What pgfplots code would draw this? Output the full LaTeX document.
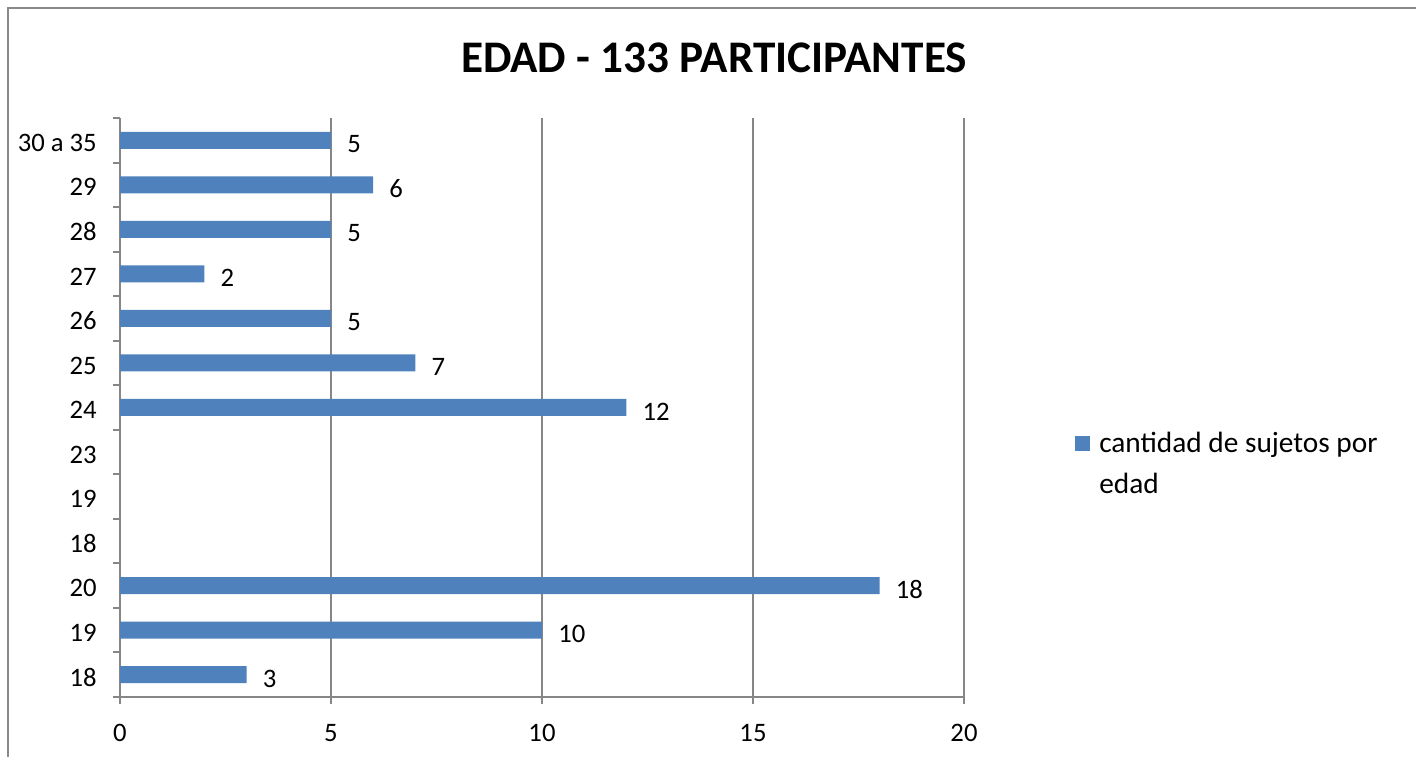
\documentclass[border=0pt]{standalone}
\usepackage{pgfplots}
\pgfplotsset{compat=1.18}
\usepackage{fontspec}
\setmainfont{Carlito}

\definecolor{barblue}{RGB}{79,129,189}
\definecolor{axisgray}{RGB}{134,134,134}
\definecolor{framegray}{RGB}{137,137,137}

% 1 px = 0.75 pt; canvas 1416 x 757 px
\begin{document}
\begin{tikzpicture}
\useasboundingbox (0,0) rectangle (1062pt,567.75pt);
% outer chart frame
\draw[framegray, line width=1.3pt] (6pt,0) -- (6pt,561.75pt) -- (1062pt,561.75pt);

\begin{axis}[
  at={(90pt,45pt)}, anchor=south west,
  scale only axis,
  width=633pt, height=434.25pt,
  xbar, bar width=12.75pt, bar shift=0pt,
  xmin=0, xmax=20,
  ymin=-0.5, ymax=12.5,
  axis lines=left,
  axis line style={-, axisgray, line width=1.5pt},
  xtick={0,5,10,15,20},
  % ticks sit on the category boundaries; labels are lifted to the centres
  ytick={-0.5,0.5,...,12.5},
  yticklabels={18,19,20,18,19,23,24,25,26,27,28,29,30 a 35,{}},
  yticklabel style={yshift=14.8pt},
  tick align=outside,
  major tick length=5.25pt,
  tick style={axisgray, line width=1.5pt},
  xmajorgrids,
  grid style={axisgray, line width=1.5pt},
  /pgf/number format/assume math mode=true,
  tick label style={font=\fontsize{20}{24}\selectfont, inner sep=0pt},
  yticklabel shift=12pt,
  xticklabel shift=15pt,
  title={\textbf{EDAD - 133 PARTICIPANTES}},
  title style={at={(axis description cs:0.7038,1.0898)}, anchor=center,
    font=\fontsize{33.9}{38}\selectfont, inner sep=0pt},
  nodes near coords,
  every node near coord/.append style={anchor=west, xshift=12pt, yshift=-3pt,
    inner sep=0pt, font=\fontsize{20}{24}\selectfont, black},
  legend style={at={(axis description cs:1.1315,0.4022)}, anchor=west,
    draw=none, inner sep=0pt, /tikz/column sep=6.75pt,
    font=\fontsize{22}{30.75}\selectfont,
    nodes={align=left, inner sep=0pt}},
  % square level with the first line of the two-line entry
  legend image code/.code={%
    \path[fill=none, draw=none] (0pt,-21pt) rectangle (11.25pt,21pt);
    \fill[barblue] (0pt,9.8pt) rectangle (11.25pt,21pt);},
  legend cell align=left,
]
\addplot[fill=barblue, draw=none] coordinates {
  (3,0) (10,1) (18,2) (12,6) (7,7) (5,8) (2,9) (5,10) (6,11) (5,12)
};
\addlegendentry{cantidad de sujetos por\\edad}
\end{axis}
\end{tikzpicture}
\end{document}
